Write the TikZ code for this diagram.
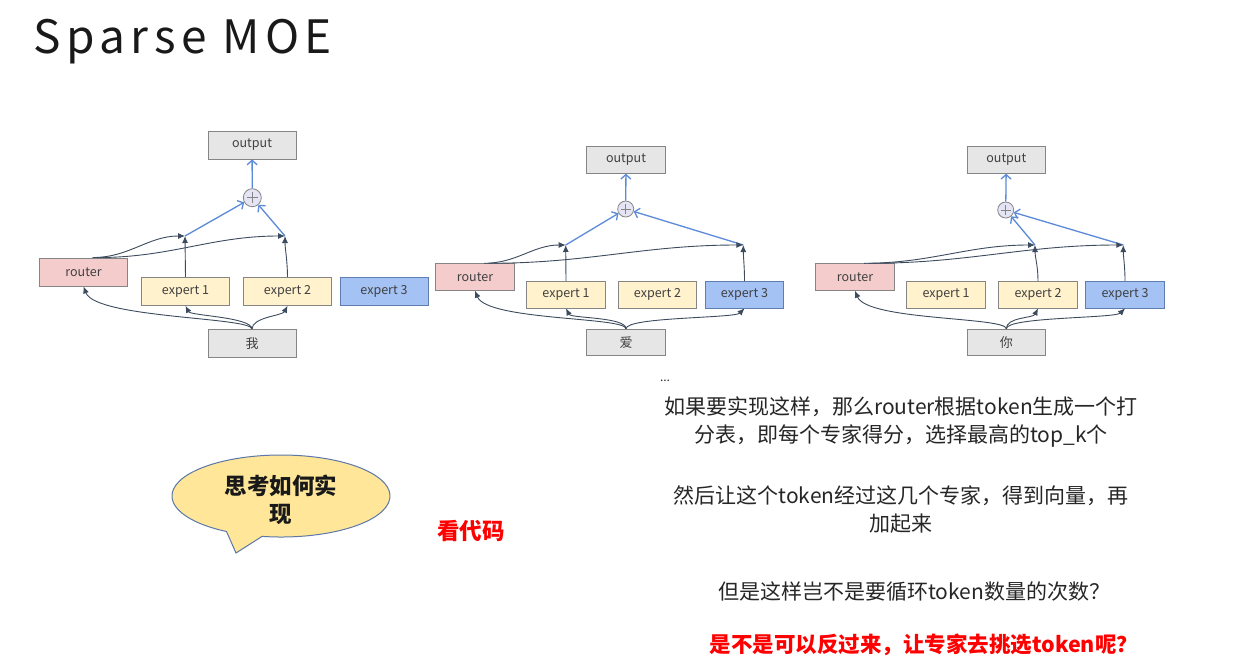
\documentclass[tikz,border=0pt]{standalone}
\usepackage{fontspec}
\setmainfont{Noto Sans CJK SC}
\usetikzlibrary{arrows.meta,calc}
\definecolor{gfill}{HTML}{E6E6E6}
\definecolor{gline}{HTML}{858585}
\definecolor{rfill}{HTML}{F4CCCC}
\definecolor{yfill}{HTML}{FFF2CC}
\definecolor{bfill}{HTML}{A4C2F4}
\definecolor{bline}{HTML}{5F7EB0}
\definecolor{darkc}{HTML}{3D4B5E}
\definecolor{bluec}{HTML}{5B8BD8}
\definecolor{pfill}{HTML}{E4E4F4}
\definecolor{txtc}{HTML}{404040}
\definecolor{bubfill}{HTML}{FFE699}
\definecolor{bubline}{HTML}{5B78A8}
\definecolor{redc}{HTML}{FF0000}
\tikzset{
  boxbase/.style={rectangle, draw=gline, line width=0.9pt, text=txtc, inner sep=0pt,
    font=\fontsize{12.5}{14}\selectfont},
  bwa/.style={minimum width=88pt, minimum height=28pt},
  bwb/.style={minimum width=78.5pt, minimum height=26.5pt},
  gbox/.style={boxbase, fill=gfill},
  rbox/.style={boxbase, fill=rfill},
  ybox/.style={boxbase, fill=yfill},
  bbox/.style={boxbase, fill=bfill, draw=bline},
  tokbox/.style={boxbase, fill=gfill, font=\fontsize{13}{15}\selectfont},
  plusnode/.style={circle, draw=gline, fill=pfill, minimum size=#1, inner sep=0pt, line width=0.8pt,
    path picture={\draw[gline, line width=0.6pt]
      ([xshift=-0.3*#1]path picture bounding box.center) -- ([xshift=0.3*#1]path picture bounding box.center)
      ([yshift=-0.3*#1]path picture bounding box.center) -- ([yshift=0.3*#1]path picture bounding box.center);}},
  darr/.style={draw=darkc, line width=0.9pt, -{Latex[length=7pt,width=6pt]}},
  barr/.style={draw=bluec, line width=1.3pt, -{Straight Barb[length=4.5pt,width=10pt]}},
  bodytext/.style={text=black!85, font=\fontsize{21}{28}\selectfont, align=center, inner sep=0pt},
}
\begin{document}
\begin{tikzpicture}[x=1pt,y=-1pt]
\useasboundingbox (0,0) rectangle (1238,669);
\fill[white] (0,0) rectangle (1238,669);

% title
\node[anchor=base west, inner sep=0pt, text=black!90, font=\fontsize{46}{50}\selectfont\addfontfeatures{LetterSpace=12}] (title) at (33,53) {Sparse MOE};

% ---------- diagram 1 ----------
\node[gbox,bwa] (d1o) at (252,145) {output};
\node[plusnode=18pt] (d1p) at (252.3,197.7) {};
\node[rbox,bwa] (d1r) at (83.5,272) {router};
\node[ybox,bwa] (d1e1) at (185.5,291.3) {expert 1};
\node[ybox,bwa] (d1e2) at (287.5,291.3) {expert 2};
\node[bbox,bwa] (d1e3) at (384,291.3) {expert 3};
\node[tokbox,bwa] (d1t) at (252,343.5) {我};
\coordinate (d1j1) at (185,236);
\coordinate (d1j2) at (285,236);
\draw[barr] (d1p) -- (d1o);
\draw[barr] (d1j1) -- (d1p);
\draw[barr] (d1j2) -- (d1p);
\draw[darr] (d1e1.north) -- (d1j1);
\draw[darr] (d1e2.north) .. controls +(0,-15) and +(0,12) .. (d1j2);
\draw[darr] ([xshift=9pt]d1r.north) to[out=0,in=180] (d1j1);
\draw[darr] ([xshift=14pt]d1r.north) to[out=0,in=180] (d1j2);
\draw[darr] (d1t.north) .. controls +(0,-12) and +(12,32) .. (d1r.south);
\draw[darr] (d1t.north) .. controls +(0,-12) and +(5,10) .. (d1e1.south);
\draw[darr] (d1t.north) .. controls +(0,-12) and +(-5,10) .. (d1e2.south);

% ---------- diagram 2 ----------
\node[gbox,bwb] (d2o) at (626,160) {output};
\node[plusnode=16pt] (d2p) at (625.7,209) {};
\node[rbox,bwb] (d2r) at (475,277) {router};
\node[ybox,bwb] (d2e1) at (566,294.7) {expert 1};
\node[ybox,bwb] (d2e2) at (657.5,294.7) {expert 2};
\node[bbox,bwb] (d2e3) at (744.5,294.7) {expert 3};
\node[tokbox,bwb] (d2t) at (626,342.5) {爱};
\coordinate (d2j1) at (565.7,245);
\coordinate (d2j3) at (743.3,245);
\draw[barr] (d2p) -- (d2o);
\draw[barr] (d2j1) -- (d2p);
\draw[barr] (d2j3) -- (d2p);
\draw[darr] (d2e1.north) -- (d2j1);
\draw[darr] (d2e3.north) .. controls +(0,-15) and +(0,12) .. (d2j3);
\draw[darr] ([xshift=9pt]d2r.north) to[out=0,in=180] (d2j1);
\draw[darr] ([xshift=14pt]d2r.north) to[out=0,in=180] (d2j3);
\draw[darr] (d2t.north) .. controls +(0,-12) and +(12,30) .. (d2r.south);
\draw[darr] (d2t.north) .. controls +(0,-12) and +(5,10) .. (d2e1.south);
\draw[darr] (d2t.north) .. controls +(0,-12) and +(-10,10) .. (d2e3.south);

% ---------- diagram 3 ----------
\node[gbox,bwb] (d3o) at (1006.3,160) {output};
\node[plusnode=16pt] (d3p) at (1005.7,210) {};
\node[rbox,bwb] (d3r) at (855,277) {router};
\node[ybox,bwb] (d3e1) at (946,294.7) {expert 1};
\node[ybox,bwb] (d3e2) at (1038,294.7) {expert 2};
\node[bbox,bwb] (d3e3) at (1125,294.7) {expert 3};
\node[tokbox,bwb] (d3t) at (1006.3,342.5) {你};
\coordinate (d3j2) at (1035,245);
\coordinate (d3j3) at (1123.3,245);
\draw[barr] (d3p) -- (d3o);
\draw[barr] (d3j2) -- (d3p);
\draw[barr] (d3j3) -- (d3p);
\draw[darr] (d3e2.north) .. controls +(0,-15) and +(0,12) .. (d3j2);
\draw[darr] (d3e3.north) .. controls +(0,-15) and +(0,12) .. (d3j3);
\draw[darr] ([xshift=9pt]d3r.north) to[out=0,in=180] (d3j2);
\draw[darr] ([xshift=14pt]d3r.north) to[out=0,in=180] (d3j3);
\draw[darr] (d3t.north) .. controls +(0,-12) and +(12,30) .. (d3r.south);
\draw[darr] (d3t.north) .. controls +(0,-12) and +(-5,10) .. (d3e2.south);
\draw[darr] (d3t.north) .. controls +(0,-12) and +(-10,10) .. (d3e3.south);

% ---------- speech bubble ----------
\coordinate (bc) at (281,496);
\draw[draw=bubline, fill=bubfill, line width=1pt]
  ([shift={(bc)}]120:109 and 41) -- (236,553) -- ([shift={(bc)}]100:109 and 41)
  arc[start angle=100, end angle=-240, x radius=109, y radius=41] -- cycle;
\node[align=center, inner sep=0pt, font=\bfseries\fontsize{22.5}{28}\selectfont, text=black!90] (bubtext) at (281,500) {思考如何实\\现};

\node[inner sep=0pt, text=redc, font=\bfseries\fontsize{22.5}{24}\selectfont] (code) at (471,531) {看代码};

% ---------- right text ----------
\node[inner sep=0pt, font=\fontsize{12}{14}\selectfont, text=black!85] (dots) at (665,381) {...};
\node[bodytext] (p1) at (901,422) {如果要实现这样，那么router根据token生成一个打\\分表，即每个专家得分，选择最高的top\_k个};
\node[bodytext] (p2) at (901,510) {然后让这个token经过这几个专家，得到向量，再\\加起来};
\node[bodytext] (p3) at (914,591.7) {但是这样岂不是要循环token数量的次数？};
\node[bodytext, text=redc, font=\bfseries\fontsize{21.5}{28}\selectfont] (p4) at (924,645) {是不是可以反过来，让专家去挑选token呢？};
\end{tikzpicture}
\end{document}
